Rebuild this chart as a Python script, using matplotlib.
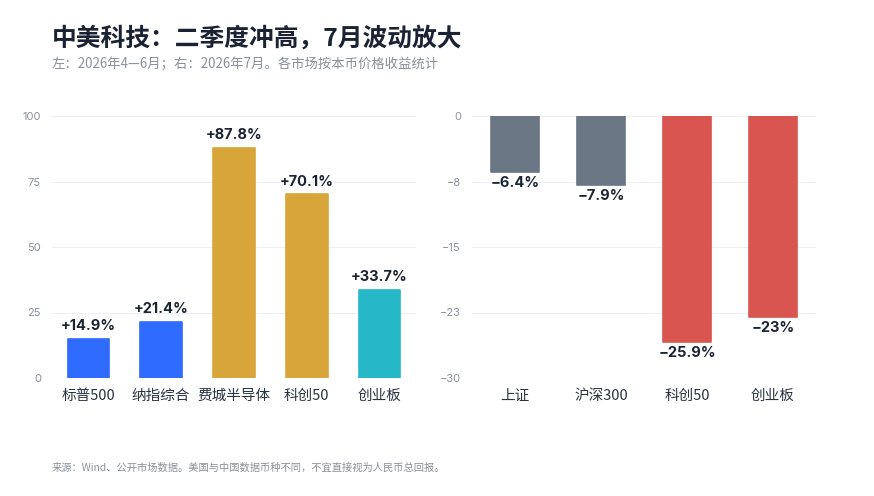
import matplotlib
matplotlib.use('Agg')
import matplotlib.pyplot as plt

plt.rcParams['font.family'] = ['Noto Sans CJK SC', 'DejaVu Sans']
plt.rcParams['axes.unicode_minus'] = True
NUM_FONT = ['Inter', 'Noto Sans CJK SC', 'DejaVu Sans']

# 左：二季度
q2_names = ['标普500', '纳指综合', '费城半导体', '科创50', '创业板']
q2_values = [14.9, 21.4, 87.8, 70.1, 33.7]
q2_colors = ['#2F6BFF', '#2F6BFF', '#D8A53B', '#D8A53B', '#27B8C8']

# 右：7月
jul_names = ['上证', '沪深300', '科创50', '创业板']
jul_values = [-6.4, -7.9, -25.9, -23.0]
jul_colors = ['#6B7785', '#6B7785', '#D95650', '#D95650']
jul_labels = ['−6.4%', '−7.9%', '−25.9%', '−23%']

W, H = 874, 496
fig = plt.figure(figsize=(W / 100, H / 100), dpi=100)

def box(x0, x1, ytop, ybot):
    return [x0 / W, 1 - ybot / H, (x1 - x0) / W, (ybot - ytop) / H]

def style(ax):
    for s in ax.spines.values():
        s.set_visible(False)
    ax.grid(axis='y', color='#EEEFF2', linewidth=0.8)
    ax.set_axisbelow(True)
    ax.tick_params(axis='y', length=0, labelsize=8, labelcolor='#8A9099', pad=8)
    ax.tick_params(axis='x', length=0, labelsize=10.5, labelcolor='#2A3140', pad=8)
    for t in ax.get_yticklabels():
        t.set_family(NUM_FONT)

def round_bars(bars):
    for b in bars:
        b.set_edgecolor(b.get_facecolor())
        b.set_linewidth(1.2)
        b.set_joinstyle('round')

ax1 = fig.add_axes(box(52, 416, 116, 378))
x1 = range(len(q2_names))
round_bars(ax1.bar(x1, q2_values, width=0.57, color=q2_colors))
ax1.set_xlim(-0.5, len(q2_names) - 0.5)
ax1.set_ylim(0, 100)
ax1.set_yticks([0, 25, 50, 75, 100])
ax1.set_xticks(list(x1))
ax1.set_xticklabels(q2_names)
style(ax1)
for i, v in enumerate(q2_values):
    ax1.annotate(f'+{v:.1f}%', (i, v), xytext=(0, 4), textcoords='offset points',
                 ha='center', va='bottom', fontsize=10.5, fontweight='bold', color='#1B2333',
                 family=NUM_FONT)

ax2 = fig.add_axes(box(472, 816, 116, 378))
x2 = range(len(jul_names))
round_bars(ax2.bar(x2, jul_values, width=0.56, color=jul_colors))
ax2.set_xlim(-0.5, len(jul_names) - 0.5)
ax2.set_ylim(-30, 0)
ticks = [0, -7.5, -15, -22.5, -30]
ax2.set_yticks(ticks)
ax2.set_yticklabels(['0', '−8', '−15', '−23', '−30'])
ax2.set_xticks(list(x2))
ax2.set_xticklabels(jul_names)
style(ax2)
for i, (v, lab) in enumerate(zip(jul_values, jul_labels)):
    ax2.annotate(lab, (i, v), xytext=(0, -3), textcoords='offset points',
                 ha='center', va='top', fontsize=10.5, fontweight='bold', color='#1B2333',
                 family=NUM_FONT)

fig.text(52 / W, 1 - 38 / H, '中美科技：二季度冲高，7月波动放大', fontsize=17.8, fontweight='bold',
         color='#1A2233', va='center', ha='left')
fig.text(52 / W, 1 - 64 / H, '左：2026年4—6月；右：2026年7月。各市场按本币价格收益统计', fontsize=9.6,
         color='#8A9099', va='center', ha='left')
fig.text(52 / W, 1 - 468 / H, '来源：Wind、公开市场数据。美国与中国数据币种不同，不宜直接视为人民币总回报。',
         fontsize=7.4, color='#8A9099', va='center', ha='left')

fig.savefig('out.png', dpi=100, facecolor='white')
